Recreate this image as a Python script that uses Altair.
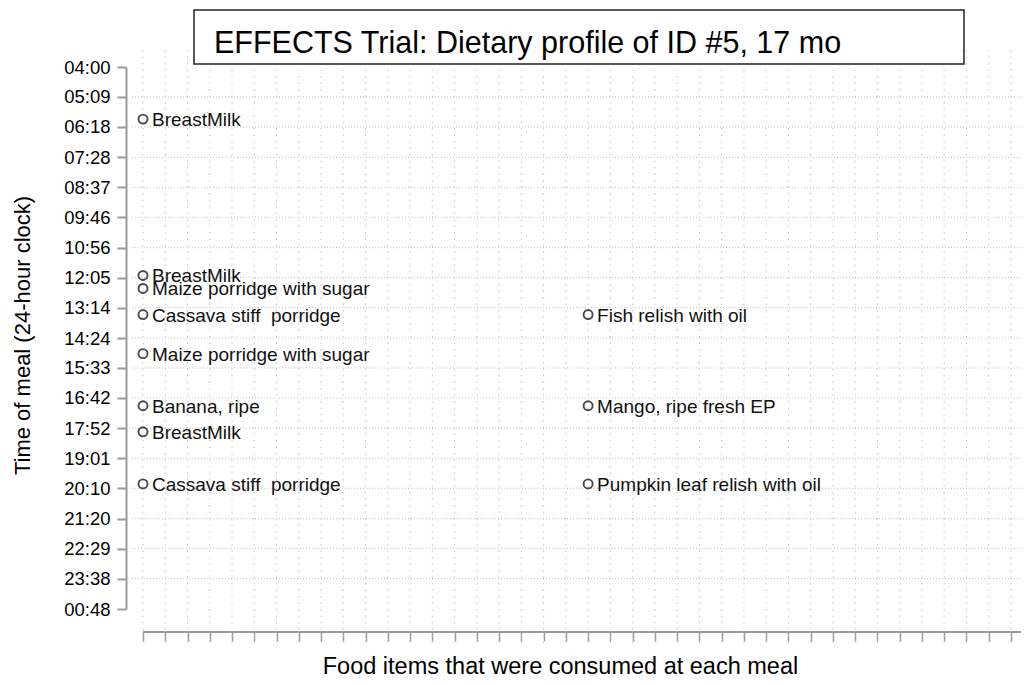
import altair as alt
import pandas as pd

# ---------------- data ----------------
title_text = "EFFECTS Trial: Dietary profile of ID #5, 17 mo"
x_title = "Food items that were consumed at each meal"
y_title = "Time of meal (24-hour clock)"

foods = ["BreastMilk", "BreastMilk", "Maize porridge with sugar", "Cassava stiff\u00a0 porridge",
         "Fish relish with oil", "Maize porridge with sugar", "Banana, ripe", "Mango, ripe fresh EP",
         "BreastMilk", "Cassava stiff\u00a0 porridge", "Pumpkin leaf relish with oil"]
meal_times = ["06:00", "12:00", "12:30", "13:30", "13:30", "15:00",
              "17:00", "17:00", "18:00", "20:00", "20:00"]
columns = [1, 1, 1, 1, 21, 1, 1, 21, 1, 1, 21]

tick_labels = ["04:00", "05:09", "06:18", "07:28", "08:37", "09:46", "10:56", "12:05", "13:14",
               "14:24", "15:33", "16:42", "17:52", "19:01", "20:10", "21:20", "22:29", "23:38",
               "00:48"]
x_ticks = list(range(1, 41))


def to_min(s):
    h, m = s.split(":")
    v = int(h) * 60 + int(m)
    return v + 1440 if v < 240 else v


tick_vals = [to_min(t) for t in tick_labels]

df = pd.DataFrame({"food": foods, "t": [to_min(t) for t in meal_times], "col": columns})
vgrid_df = pd.DataFrame({"col": x_ticks})
hgrid_df = pd.DataFrame({"t": tick_vals[1:-1]})
one = pd.DataFrame({"k": [0]})

# ---------------- layout ----------------
W, H = 889, 542
FONT = "Liberation Sans, Arial, Helvetica, sans-serif"
AX_GRAY = "#9a9a9a"

xscale = alt.Scale(domain=[0.506, 40.45], nice=False, zero=False)
yscale = alt.Scale(domain=[tick_vals[0], tick_vals[-1]], nice=False, zero=False, reverse=True)

label_expr = ("(floor(datum.value/60)%24 < 10 ? '0' : '') + (floor(datum.value/60)%24) + ':' + "
              "(datum.value%60 < 10 ? '0' : '') + (datum.value%60)")

x_axis = alt.Axis(values=x_ticks, labels=False, domain=False, grid=False, offset=23,
                  ticks=True, tickSize=9, tickColor=AX_GRAY, tickWidth=1.5,
                  title=x_title, titleFont=FONT, titleFontSize=23.5, titleFontWeight="normal",
                  titleColor="#000", titleX=428, titleY=41, titleAlign="center",
                  titleBaseline="alphabetic", titleAnchor="start")
y_axis = alt.Axis(values=tick_vals, labelExpr=label_expr, grid=False, offset=6,
                  domain=True, domainColor=AX_GRAY, domainWidth=2,
                  ticks=True, tickSize=9, tickColor=AX_GRAY, tickWidth=2,
                  labelFont=FONT, labelFontSize=18.5, labelColor="#000", labelPadding=7,
                  title=y_title, titleFont=FONT, titleFontSize=22, titleFontWeight="normal",
                  titleColor="#000", titleX=-97, titleY=268, titleAngle=270,
                  titleAlign="center", titleBaseline="alphabetic", titleAnchor="start")

vgrid = alt.Chart(vgrid_df).mark_rule(color="#c4c4c4", strokeWidth=1, strokeDash=[1.5, 5]).encode(
    x=alt.X("col:Q", scale=xscale, axis=x_axis),
    y=alt.value(-17), y2=alt.value(H + 39))

hgrid = alt.Chart(hgrid_df).mark_rule(color="#bdbdbd", strokeWidth=1, strokeDash=[1, 2]).encode(
    y=alt.Y("t:Q", scale=yscale, axis=y_axis),
    x=alt.value(0), x2=alt.value(W))

xline = alt.Chart(one).mark_rule(color=AX_GRAY, strokeWidth=2).encode(
    x=alt.X(datum=x_ticks[0], type="quantitative", scale=xscale, axis=x_axis),
    x2=alt.value(W), y=alt.value(H + 23))

points = alt.Chart(df).mark_point(shape="circle", filled=False, size=82, strokeWidth=1.9,
                                  color="#4a4a4a", opacity=1).encode(
    x=alt.X("col:Q", scale=xscale, axis=x_axis),
    y=alt.Y("t:Q", scale=yscale, axis=y_axis))

labels = alt.Chart(df).mark_text(align="left", baseline="middle", dx=9, dy=1, fontSize=19,
                                 font=FONT, color="#111").encode(
    x=alt.X("col:Q", scale=xscale, axis=x_axis),
    y=alt.Y("t:Q", scale=yscale, axis=y_axis),
    text="food:N")

box = alt.Chart(one).mark_rect(fill="white", stroke="#222", strokeWidth=1.5).encode(
    x=alt.value(62), x2=alt.value(832), y=alt.value(-57), y2=alt.value(-3))

title = alt.Chart(one).mark_text(align="left", baseline="alphabetic", fontSize=30.5, font=FONT,
                                 color="#000").encode(
    x=alt.value(82), y=alt.value(-14.5), text=alt.value(title_text))

chart = alt.layer(vgrid, hgrid, xline, points, labels, box, title).properties(
    width=W, height=H,
    autosize=alt.AutoSizeParams(type="none"),
    padding={"left": 124, "top": 59, "right": 0, "bottom": 68},
    background="white",
).configure_view(stroke=None)

chart.save("out.html", embed_options={"renderer": "svg", "actions": False})
